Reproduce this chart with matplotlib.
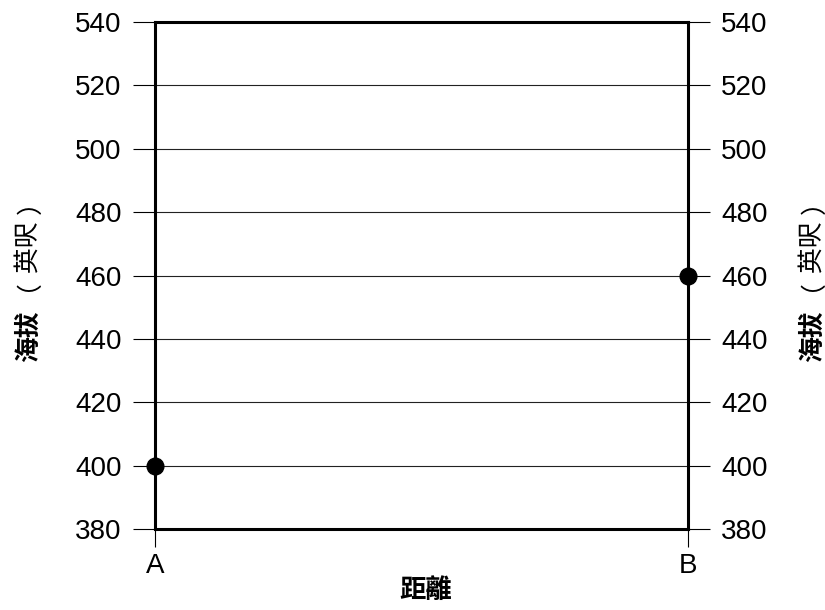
import matplotlib.pyplot as plt

plt.rcParams['font.family'] = ['Liberation Sans', 'Noto Sans CJK TC', 'DejaVu Sans']

x_labels = ['A', 'B']
x_pos = [0, 1]
heights = [400, 460]
y_ticks = [380, 400, 420, 440, 460, 480, 500, 520, 540]

fig = plt.figure(figsize=(8.25, 6.1), dpi=100)
ax = fig.add_axes([155/825, 1-529/610, (688-155)/825, (529-22)/610])

ax.set_xlim(0, 1)
ax.set_ylim(380, 540)
ax.set_yticks(y_ticks)
ax.set_xticks(x_pos)
ax.set_xticklabels(x_labels)

for y in y_ticks[1:-1]:
    ax.axhline(y, color='#222222', lw=0.8, zorder=1)

ax.plot(x_pos, heights, 'o', color='black', markersize=12, clip_on=False, zorder=5, linestyle='none')

for s in ax.spines.values():
    s.set_linewidth(2.2)

ax.tick_params(axis='y', which='both', left=True, right=True, labelleft=True, labelright=True,
               length=16, width=0.8, labelsize=20, pad=8)
ax.tick_params(axis='x', length=13, width=0.8, labelsize=20, pad=4)

# y label: bold 海拔 + regular （英呎）, written as separate pieces
cjk = ['Noto Sans CJK TC', 'DejaVu Sans']
fig.text(426/825, 1-590/610, '距離', family=cjk, fontsize=19, fontweight='bold', ha='center', va='center')
for xp in (28, 812):
    fig.text(xp/825, 1-336/610, '海拔', family=cjk, fontsize=18.5, fontweight='bold', rotation=90, ha='center', va='center')
    fig.text(xp/825, 1-300/610, '︶', family=cjk, fontsize=18.5, ha='center', va='center')
    fig.text(xp/825, 1-246/610, '英呎', family=cjk, fontsize=18.5, rotation=90, ha='center', va='center')
    fig.text(xp/825, 1-206/610, '︵', family=cjk, fontsize=18.5, ha='center', va='center')

fig.savefig('out.png', dpi=100)
